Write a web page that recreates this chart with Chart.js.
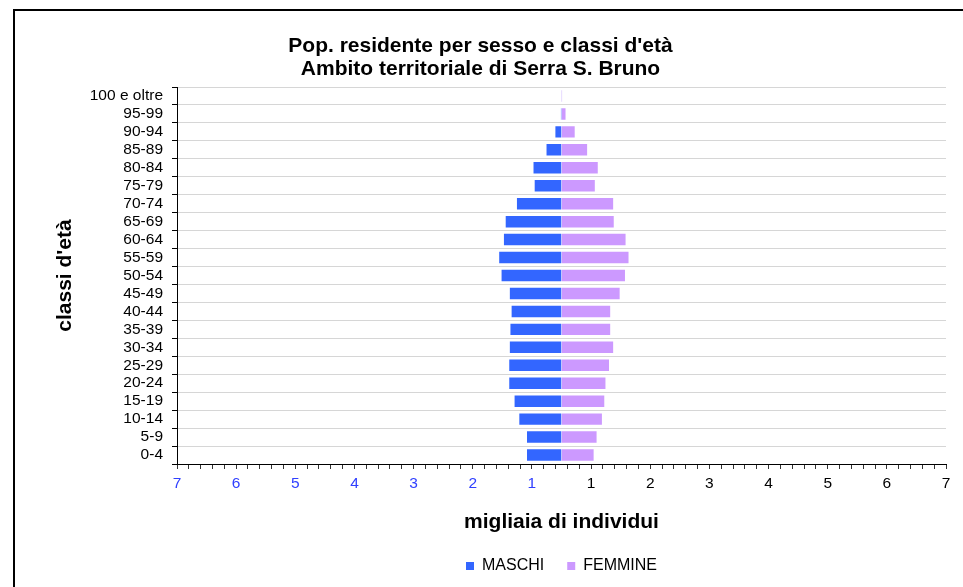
<!DOCTYPE html>
<html>
<head>
<meta charset="utf-8">
<script src="https://cdn.jsdelivr.net/npm/chart.js@4"></script>
<style>
  html, body { margin: 0; padding: 0; background: #fff; overflow: hidden; }
  #frame { position: absolute; left: 13px; top: 9px; width: 1000px; height: 700px; border: 2px solid #000; }
  #chart { display: block; }
</style>
</head>
<body>
<div id="frame"><canvas id="chart" width="948" height="573"></canvas></div>
<script>
// Age classes, bottom to top
const ageClasses = ['0-4', '5-9', '10-14', '15-19', '20-24', '25-29', '30-34', '35-39', '40-44', '45-49',
  '50-54', '55-59', '60-64', '65-69', '70-74', '75-79', '80-84', '85-89', '90-94', '95-99', '100 e oltre'];

// thousands of people
const maschi = [0.60, 0.60, 0.73, 0.81, 0.90, 0.90, 0.89, 0.88, 0.86, 0.89,
  1.03, 1.07, 0.99, 0.96, 0.77, 0.47, 0.49, 0.27, 0.12, 0.02, 0.005];
const femmine = [0.56, 0.61, 0.70, 0.74, 0.76, 0.82, 0.89, 0.84, 0.84, 1.00,
  1.09, 1.15, 1.10, 0.90, 0.89, 0.58, 0.63, 0.45, 0.24, 0.085, 0.02];

// x axis labels, left to right (every 5th minor tick)
const xTickLabels = ['7', '6', '5', '4', '3', '2', '1', '1', '2', '3', '4', '5', '6', '7'];

const X_MIN = -6.5, X_MAX = 6.5, MINOR = 0.2;
const BLUE = '#3040ff';

Chart.defaults.font.family = 'Arial, "Liberation Sans", sans-serif';
Chart.defaults.color = '#000';

const ctx = document.getElementById('chart').getContext('2d');
new Chart(ctx, {
  type: 'bar',
  data: {
    labels: ageClasses,
    datasets: [{
      label: 'MASCHI',
      data: maschi.map(v => -v),
      backgroundColor: '#3366ff',
      borderColor: 'rgba(255,255,255,0.45)',
      borderWidth: 1
    }, {
      label: 'FEMMINE',
      data: femmine,
      backgroundColor: '#cc99ff',
      borderColor: 'rgba(255,255,255,0.45)',
      borderWidth: 1
    }]
  },
  options: {
    indexAxis: 'y',
    responsive: false,
    animation: false,
    devicePixelRatio: 1,
    barPercentage: 0.75,
    categoryPercentage: 1,
    layout: { padding: { left: 0, right: 17, top: 0, bottom: 0 } },
    scales: {
      x: {
        type: 'linear',
        stacked: true,
        min: X_MIN,
        max: X_MAX,
        afterBuildTicks: (scale) => {
          const ticks = [];
          const n = Math.round((X_MAX - X_MIN) / MINOR);
          for (let i = 0; i <= n; i++) ticks.push({ value: X_MIN + i * MINOR });
          scale.ticks = ticks;
        },
        afterFit: (scale) => { scale.height = 71; },
        ticks: {
          autoSkip: false,
          maxRotation: 0,
          minRotation: 0,
          padding: 5,
          font: { size: 15.5 },
          color: (c) => (c.tick && c.tick.value < 0 ? BLUE : '#000'),
          callback: (value, index) => (index % 5 === 0 ? xTickLabels[index / 5] : '')
        },
        grid: {
          display: true,
          drawOnChartArea: false,
          drawTicks: true,
          tickLength: 5,
          tickColor: '#333'
        },
        border: { display: true, color: '#000', width: 1 },
        title: {
          display: true,
          text: 'migliaia di individui',
          color: '#000',
          font: { size: 21, weight: 'bold' },
          padding: 0
        }
      },
      y: {
        type: 'category',
        stacked: true,
        reverse: true,
        afterFit: (scale) => { scale.width = 162; },
        ticks: {
          autoSkip: false,
          padding: 9,
          font: { size: 15.5 },
          color: '#000'
        },
        grid: {
          color: '#d6d6d6',
          tickColor: '#000',
          tickLength: 5,
          offset: true
        },
        border: { display: true, color: '#000', width: 1 },
        title: {
          display: true,
          text: "classi d'età",
          color: '#000',
          font: { size: 21, weight: 'bold' },
          padding: { top: 37.4, bottom: 0 }
        }
      }
    },
    plugins: {
      title: {
        display: true,
        text: ["Pop. residente per sesso e classi d'età", 'Ambito territoriale di Serra S. Bruno'],
        color: '#000',
        font: { size: 21, weight: 'bold', lineHeight: 1.1 },
        padding: { top: 23.5, bottom: 6.3 }
      },
      legend: {
        position: 'bottom',
        fullSize: false,
        labels: {
          boxWidth: 8,
          boxHeight: 8,
          padding: 23,
          color: '#000',
          font: { size: 16 },
          generateLabels: (chart) =>
            Chart.defaults.plugins.legend.labels.generateLabels(chart).map(l => ({ ...l, lineWidth: 0 }))
        }
      },
      tooltip: { enabled: false }
    }
  }
});
</script>
</body>
</html>
